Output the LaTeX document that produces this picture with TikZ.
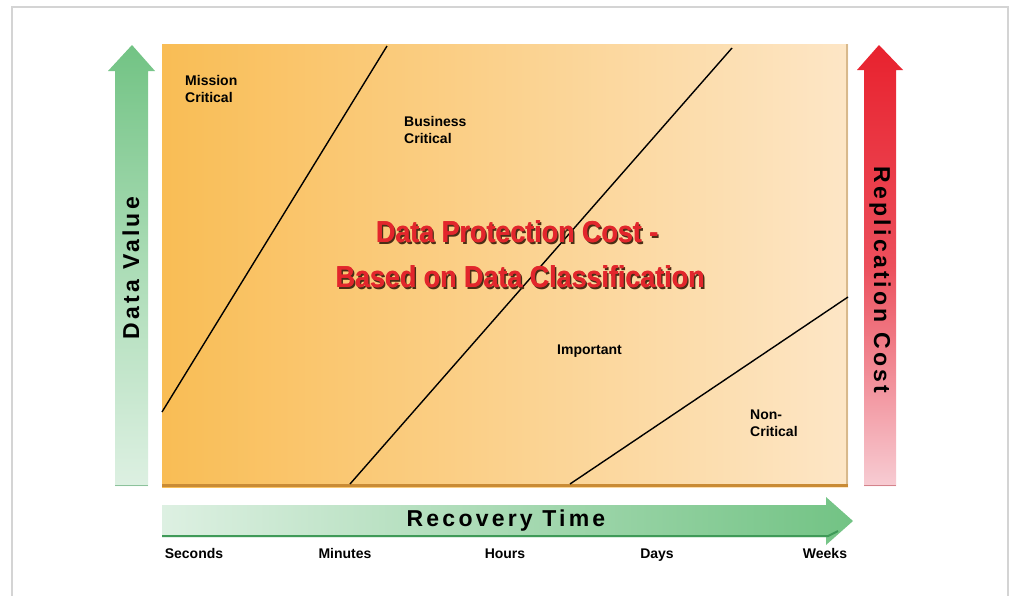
\documentclass[tikz,border=0pt]{standalone}
\usepackage{fontspec}
\setmainfont{Liberation Sans}
\newfontfamily\spacedfont[LetterSpace=14]{Liberation Sans}
\usetikzlibrary{shadings}
\definecolor{frame}{HTML}{D4D4D4}
\definecolor{orL}{HTML}{F9BD55}
\definecolor{orR}{HTML}{FDE6C6}
\definecolor{orEdge}{HTML}{C98B35}
\definecolor{orEdgeR}{HTML}{D8B98C}
\definecolor{grDark}{HTML}{72C384}
\definecolor{grMid}{HTML}{ABDCB6}
\definecolor{grLight}{HTML}{DDF0E2}
\definecolor{grEdge}{HTML}{3F9A58}
\definecolor{rdDark}{HTML}{E8222E}
\definecolor{rdMid}{HTML}{EC4F5C}
\definecolor{rdLight}{HTML}{F7CCD3}
\definecolor{rdEdge}{HTML}{B8303E}
\definecolor{titleRed}{HTML}{E2262C}
\definecolor{titleShadow}{HTML}{4A2E16}
\newcommand{\ttltext}[1]{\scalebox{0.96}[1.08]{#1}}
\tikzset{
  lbl/.style={font=\fontsize{14}{17}\selectfont\bfseries, align=left, inner sep=0pt, anchor=west},
  tick/.style={font=\fontsize{14}{17}\selectfont\bfseries, inner sep=0pt, anchor=base},
  axis/.style={font=\spacedfont\fontsize{23}{27}\selectfont\bfseries, inner sep=0pt},
  ttl/.style={font=\fontsize{28}{34}\selectfont\bfseries, inner sep=0pt},
  divider/.style={draw=black, line width=1.4pt},
}
\begin{document}
\begin{tikzpicture}[x=1pt,y=-1pt]
\useasboundingbox (0,0) rectangle (1013,595);
\fill[white] (0,0) rectangle (1013,595);
% frame
\draw[frame, line width=2.5pt] (12,600) -- (12,7) -- (1008,7) -- (1008,600);

% main panel
\shade[left color=orL, right color=orR] (162,44) rectangle (848,487);
\draw[orEdgeR, line width=2pt] (847,44) -- (847,487);
\draw[orEdge, line width=2.5pt] (162,485.5) -- (848,485.5);

% dividers
\coordinate (d1a) at (162,412); \coordinate (d1b) at (387,46);
\coordinate (d2a) at (350,484); \coordinate (d2b) at (732,48);
\coordinate (d3a) at (570,484); \coordinate (d3b) at (848,297);
\draw[divider] (d1a) -- (d1b);
\draw[divider] (d2a) -- (d2b);
\draw[divider] (d3a) -- (d3b);

% region labels
\node[lbl] (mc) at (185,89) {Mission\\Critical};
\node[lbl] (bc) at (404,130) {Business\\Critical};
\node[lbl] (im) at (557,351) {Important};
\node[lbl] (nc) at (750,423) {Non-\\Critical};

% title
\node[ttl, text=titleShadow] at (518.8,233.8) {\ttltext{Data Protection Cost -}};
\node[ttl, text=titleRed] at (517.4,232) {\ttltext{Data Protection Cost -}};
\node[ttl, text=titleRed] (t1) at (517,232) {\ttltext{Data Protection Cost -}};
\node[ttl, text=titleShadow] at (521.8,278.8) {\ttltext{Based on Data Classification}};
\node[ttl, text=titleRed] at (520.4,277) {\ttltext{Based on Data Classification}};
\node[ttl, text=titleRed] (t2) at (520,277) {\ttltext{Based on Data Classification}};

% left green arrow (Data Value)
\shade[top color=grDark, bottom color=grLight, middle color=grMid]
  (132,45) -- (155,71) -- (148,71) -- (148,486) -- (115,486) -- (115,71) -- (108,71) -- cycle;
\draw[grEdge!60, line width=1.5pt] (115,485.5) -- (148,485.5);
\node[axis, rotate=90] (dv) at (131,268) {Data Value};

% right red arrow (Replication Cost)
\shade[top color=rdDark, bottom color=rdLight, middle color=rdMid]
  (879,45) -- (903,70) -- (896,70) -- (896,486) -- (864,486) -- (864,70) -- (857,70) -- cycle;
\draw[rdEdge!60, line width=1.5pt] (864,485.5) -- (896,485.5);
\node[axis, rotate=-90] (rc) at (880,280) {Replication Cost};

% bottom green arrow (Recovery Time)
\shade[left color=grLight, right color=grDark]
  (162,505) -- (826,505) -- (826,497) -- (853,521) -- (826,545) -- (826,537) -- (162,537) -- cycle;
\draw[grEdge, line width=2pt] (162,536) -- (828,536) -- (838,531);
\node[axis] (rt) at (506,521) {Recovery Time};

% ticks
\node[tick] (s1) at (194,558) {Seconds};
\node[tick] (s2) at (345,558) {Minutes};
\node[tick] (s3) at (505,558) {Hours};
\node[tick] (s4) at (657,558) {Days};
\node[tick] (s5) at (825,558) {Weeks};
\end{tikzpicture}
\end{document}
